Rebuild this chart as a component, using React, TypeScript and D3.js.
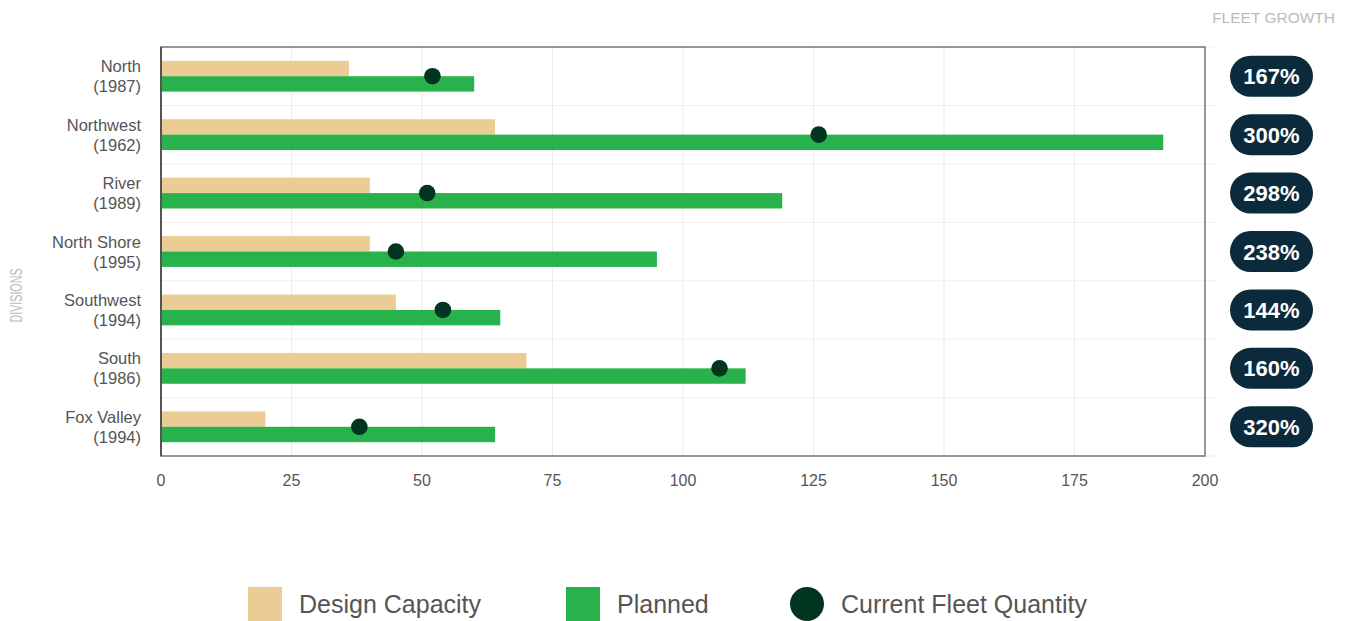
import React from "react";
import * as d3 from "d3";

const divisions = ["North", "Northwest", "River", "North Shore", "Southwest", "South", "Fox Valley"];
const years = ["1987", "1962", "1989", "1995", "1994", "1986", "1994"];
const designCapacity = [36, 64, 40, 40, 45, 70, 20];
const planned = [60, 192, 119, 95, 65, 112, 64];
const currentFleet = [52, 126, 51, 45, 54, 107, 38];
const growthLabels = ["167%", "300%", "298%", "238%", "144%", "160%", "320%"];
const xTicks = [0, 25, 50, 75, 100, 125, 150, 175, 200];

const C_DESIGN = "#EBCC94";
const C_PLANNED = "#29B24C";
const C_DOT = "#013520";
const C_BADGE = "#0B2A3B";
const FONT = "'Liberation Sans', Arial, Helvetica, sans-serif";

export default function App() {
  const W = 1346, H = 621;
  const left = 161, right = 1205, top = 47, bottom = 456;
  const x = d3.scaleLinear().domain([0, 200]).range([left, right]);
  const y = d3.scaleBand<string>().domain(divisions).range([top, bottom]).paddingInner(0).paddingOuter(0);
  const bw = y.bandwidth();
  const barH = 15.4;
  const boundaries = d3.range(divisions.length + 1).map((i) => top + i * bw);

  return (
    <svg width={W} height={H} style={{ position: "absolute", left: 0, top: 0, background: "#fff" }} fontFamily={FONT}>
      {/* vertical grid */}
      {xTicks.map((t) => (
        <line key={"vg" + t} x1={x(t)} x2={x(t)} y1={top} y2={bottom} stroke="#ebebeb" strokeWidth={1} />
      ))}
      {/* horizontal grid */}
      {boundaries.map((b, i) => (
        <line key={"hg" + i} x1={left} x2={1216} y1={b} y2={b} stroke="#efefef" strokeWidth={1} />
      ))}
      {/* bars */}
      {divisions.map((d, i) => {
        const c = (y(d) as number) + bw / 2;
        return (
          <g key={"b" + d}>
            <rect x={x(0)} y={c - barH} width={x(designCapacity[i]) - x(0)} height={barH} fill={C_DESIGN} />
            <rect x={x(0)} y={c} width={x(planned[i]) - x(0)} height={barH} fill={C_PLANNED} />
            <circle cx={x(currentFleet[i])} cy={c} r={8.3} fill={C_DOT} />
          </g>
        );
      })}
      {/* frame */}
      <rect x={left} y={top} width={right - left} height={bottom - top} fill="none" stroke="#777" strokeWidth={1.5} />
      <line x1={left} x2={left} y1={top} y2={bottom} stroke="#555" strokeWidth={2} />
      {/* x tick labels */}
      {xTicks.map((t) => (
        <text key={"xt" + t} x={x(t)} y={486} textAnchor="middle" fontSize={16} fill="#555">
          {t}
        </text>
      ))}
      {/* category labels */}
      {divisions.map((d, i) => {
        const c = (y(d) as number) + bw / 2;
        return (
          <text key={"cl" + d} textAnchor="end" fontSize={16.5} fill="#555">
            <tspan x={141} y={c - 4}>{d}</tspan>
            <tspan x={141} y={c + 16}>({years[i]})</tspan>
          </text>
        );
      })}
      {/* axis title */}
      <text transform={`translate(22,295.5) rotate(-90)`} textAnchor="middle" fontSize={16} fill="#bbb"
        textLength={54} lengthAdjust="spacingAndGlyphs">
        DIVISIONS
      </text>
      <text x={1335} y={23} textAnchor="end" fontSize={15.5} fill="#bbb">
        FLEET GROWTH
      </text>
      {/* growth badges */}
      {divisions.map((d, i) => {
        const c = (y(d) as number) + bw / 2;
        return (
          <g key={"gb" + d}>
            <rect x={1230} y={c - 20.5} width={83} height={41} rx={20.5} ry={20.5} fill={C_BADGE} />
            <text x={1271.5} y={c + 8} textAnchor="middle" fontSize={22} fontWeight="bold" fill="#fff">
              {growthLabels[i]}
            </text>
          </g>
        );
      })}
      {/* legend */}
      <rect x={248} y={587} width={34} height={34} fill={C_DESIGN} />
      <text x={299} y={613} fontSize={25} fill="#555">Design Capacity</text>
      <rect x={566} y={587} width={34} height={34} fill={C_PLANNED} />
      <text x={617} y={613} fontSize={25} fill="#555">Planned</text>
      <circle cx={807} cy={604} r={17} fill={C_DOT} />
      <text x={841} y={613} fontSize={25} fill="#555">Current Fleet Quantity</text>
    </svg>
  );
}
